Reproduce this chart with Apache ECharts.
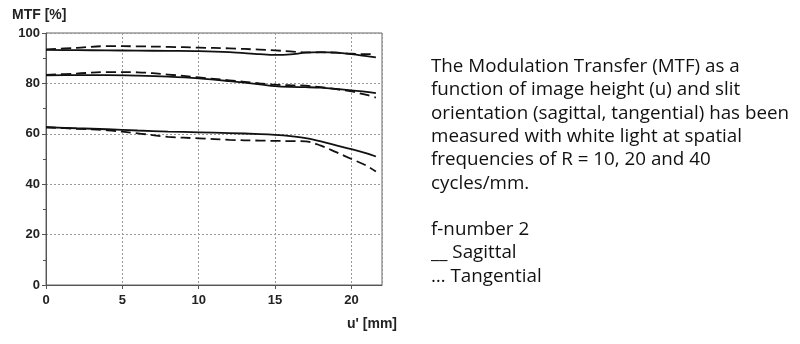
<!DOCTYPE html>
<html>
<head>
<meta charset="utf-8">
<script src="https://cdn.jsdelivr.net/npm/echarts@6/dist/echarts.min.js"></script>
<style>
  html, body { margin: 0; padding: 0; background: #fff; }
  #chart { width: 800px; height: 344px; }
</style>
</head>
<body>
<div id="chart"></div>
<script>
// Image height u' in mm, shared by all curves
const imageHeight = [0, 2, 4, 6, 8, 10, 12, 14, 15, 16, 17, 18, 19, 20, 21, 21.6];

// MTF [%] at R = 10 cycles/mm
const r10Sagittal   = [93.3, 93.2, 93.1, 93.0, 92.9, 92.8, 92.4, 91.6, 91.3, 91.5, 92.2, 92.4, 92.2, 91.6, 90.8, 90.3];
const r10Tangential = [93.5, 94.1, 94.8, 94.7, 94.5, 94.2, 93.9, 93.4, 93.1, 92.7, 92.3, 92.3, 92.2, 91.8, 91.6, 91.8];

// MTF [%] at R = 20 cycles/mm
const r20Sagittal   = [83.2, 83.3, 83.3, 83.1, 82.7, 82.0, 80.9, 79.6, 78.9, 78.6, 78.5, 78.3, 77.8, 77.2, 76.6, 76.1];
const r20Tangential = [83.4, 83.9, 84.5, 84.4, 83.5, 82.4, 81.2, 80.0, 79.5, 79.3, 79.1, 78.5, 77.7, 76.8, 75.4, 74.4];

// MTF [%] at R = 40 cycles/mm
const r40Sagittal   = [62.6, 62.2, 61.8, 61.3, 60.9, 60.6, 60.3, 59.9, 59.6, 59.1, 58.3, 57.0, 55.4, 53.9, 52.2, 51.0];
const r40Tangential = [62.6, 62.0, 61.4, 60.2, 58.8, 58.2, 57.6, 57.3, 57.2, 57.1, 57.0, 55.3, 52.7, 50.0, 47.3, 45.0];

const xTicks = [0, 5, 10, 15, 20];
const yTicks = [0, 20, 40, 60, 80, 100];

const descriptionLines = [
  'The Modulation Transfer (MTF) as a',
  'function of image height (u) and slit',
  'orientation (sagittal, tangential) has been',
  'measured with white light at spatial',
  'frequencies of R = 10, 20 and 40',
  'cycles/mm.',
  '',
  'f-number 2',
  '__ Sagittal',
  '\u2026 Tangential'
];

const pairs = ys => imageHeight.map((u, i) => [u, ys[i]]);

function curve(name, ys, dashed) {
  return {
    name: name,
    type: 'line',
    data: pairs(ys),
    smooth: 0.35,
    showSymbol: false,
    silent: true,
    lineStyle: {
      color: '#111',
      width: 1.8,
      type: dashed ? [10, 5] : 'solid'
    }
  };
}

const axisFont = {
  fontFamily: '"Liberation Sans", Arial, sans-serif',
  fontWeight: 'bold',
  fontSize: 13,
  color: '#222'
};

const chart = echarts.init(document.getElementById('chart'), null, { renderer: 'canvas' });

chart.setOption({
  animation: false,
  backgroundColor: '#fff',
  grid: {
    left: 46, right: 418, top: 33, bottom: 59,
    show: true,
    borderColor: '#666',
    borderWidth: 1
  },
  xAxis: {
    type: 'value',
    min: 0, max: 22, interval: 5,
    axisLine: { show: true, lineStyle: { color: '#555', width: 1 } },
    axisTick: { show: true, inside: false, length: 4, lineStyle: { color: '#555' } },
    axisLabel: Object.assign({}, axisFont, {
      margin: 9,
      showMaxLabel: false,
      formatter: v => (xTicks.indexOf(v) >= 0 ? String(v) : '')
    }),
    splitLine: { show: true, lineStyle: { color: '#999', type: [2, 2], width: 1 } }
  },
  yAxis: {
    type: 'value',
    min: 0, max: 100, interval: 20,
    axisLine: { show: true, lineStyle: { color: '#555', width: 1 } },
    axisTick: { show: true, inside: false, length: 4, lineStyle: { color: '#555' } },
    minorTick: { show: true, splitNumber: 2, length: 3, lineStyle: { color: '#555' } },
    axisLabel: Object.assign({}, axisFont, {
      margin: 6,
      formatter: v => (yTicks.indexOf(v) >= 0 ? String(v) : '')
    }),
    splitLine: { show: true, lineStyle: { color: '#999', type: [2, 2], width: 1 } }
  },
  series: [
    curve('R10 sagittal', r10Sagittal, false),
    curve('R10 tangential', r10Tangential, true),
    curve('R20 sagittal', r20Sagittal, false),
    curve('R20 tangential', r20Tangential, true),
    curve('R40 sagittal', r40Sagittal, false),
    curve('R40 tangential', r40Tangential, true)
  ],
  graphic: [
    {
      type: 'text', left: 12, top: 8,
      style: {
        text: 'MTF [%]',
        font: 'bold 14px "Liberation Sans", Arial, sans-serif',
        fill: '#222'
      }
    },
    {
      type: 'text', left: 347, top: 317,
      style: {
        text: "u' [mm]",
        font: 'bold 14px "Liberation Sans", Arial, sans-serif',
        fill: '#222'
      }
    },
    {
      type: 'text', left: 431, top: 55,
      style: {
        text: descriptionLines.join('\n'),
        font: '18.8px "Open Sans", "Noto Sans", sans-serif',
        lineHeight: 23.3,
        fill: '#111'
      }
    }
  ]
});
</script>
</body>
</html>
